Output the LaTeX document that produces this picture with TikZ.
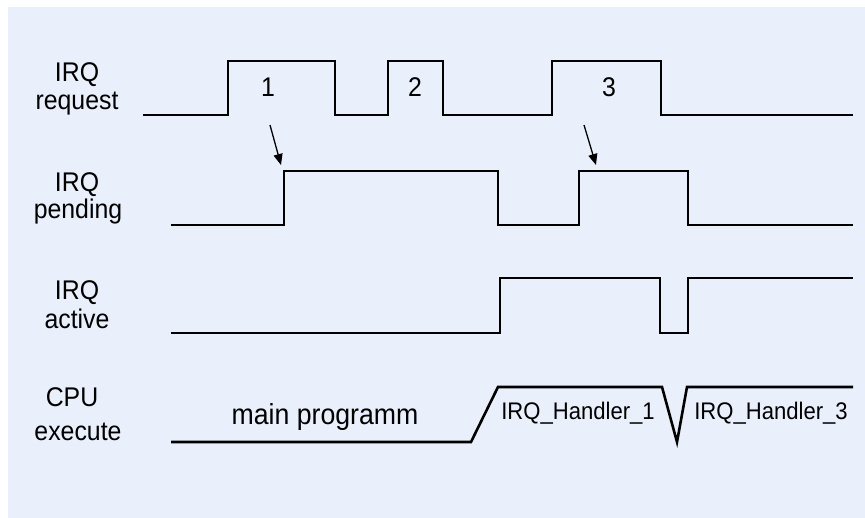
\documentclass[tikz,border=0pt]{standalone}
\usepackage{fontspec}
\setmainfont{Liberation Sans}[FakeStretch=0.92]
\usetikzlibrary{arrows.meta}
\definecolor{bgblue}{HTML}{E9F0FB}
\begin{document}
\begin{tikzpicture}[x=1pt,y=-1pt,
  wave/.style={line width=2.6pt, line join=miter, line cap=butt},
  lbl/.style={font=\fontsize{27}{30}\selectfont, anchor=base, inner sep=0pt},
  num/.style={font=\fontsize{27}{30}\selectfont, anchor=base, inner sep=0pt},
  mainlbl/.style={font=\fontsize{29}{32}\selectfont, anchor=base, inner sep=0pt},
  hlbl/.style={font=\fontsize{24}{27}\selectfont, anchor=base, inner sep=0pt},
  arr/.style={line width=1.3pt, -{Triangle[length=11pt,width=9pt]}}]
\useasboundingbox (0,0) rectangle (865,518);
\fill[bgblue] (8,7) rectangle (865,518);

% row labels
\node[lbl] (l1a) at (77,82) {IRQ};
\node[lbl] (l1b) at (77,110) {request};
\node[lbl] (l2a) at (77,192) {IRQ};
\node[lbl] (l2b) at (78,219) {pending};
\node[lbl] (l3a) at (77,300) {IRQ};
\node[lbl] (l3b) at (77,329) {active};
\node[lbl] (l4a) at (72,407) {CPU};
\node[lbl] (l4b) at (78,440) {execute};

% IRQ request
\draw[wave] (143,115) -- (228,115) -- (228,61) -- (335,61) -- (335,115) -- (388,115) -- (388,61) -- (443,61) -- (443,115) -- (552,115) -- (552,61) -- (661,61) -- (661,115) -- (853,115);
\node[num] (n1) at (268,97) {1};
\node[num] (n2) at (415,97) {2};
\node[num] (n3) at (609,97) {3};

% IRQ pending
\draw[wave] (171,225) -- (284,225) -- (284,171) -- (498,171) -- (498,225) -- (579,225) -- (579,171) -- (688,171) -- (688,225) -- (853,225);

% arrows
\coordinate (a1s) at (270,125);
\coordinate (a1e) at (281,165);
\coordinate (a3s) at (584,125);
\coordinate (a3e) at (596,165);
\draw[arr] (a1s) -- (a1e);
\draw[arr] (a3s) -- (a3e);

% IRQ active
\draw[wave] (171,333) -- (500,333) -- (500,278) -- (660,278) -- (660,333) -- (688,333) -- (688,278) -- (853,278);

% CPU execute
\draw[wave] (171,442) -- (471,442) -- (498,387) -- (662,387) -- (677,442) -- (687,387) -- (853,387);
\node[mainlbl] (mp) at (325,425) {main programm};
\node[hlbl] (h1) at (578,420) {IRQ\_Handler\_1};
\node[hlbl] (h3) at (771,420) {IRQ\_Handler\_3};
\end{tikzpicture}
\end{document}
